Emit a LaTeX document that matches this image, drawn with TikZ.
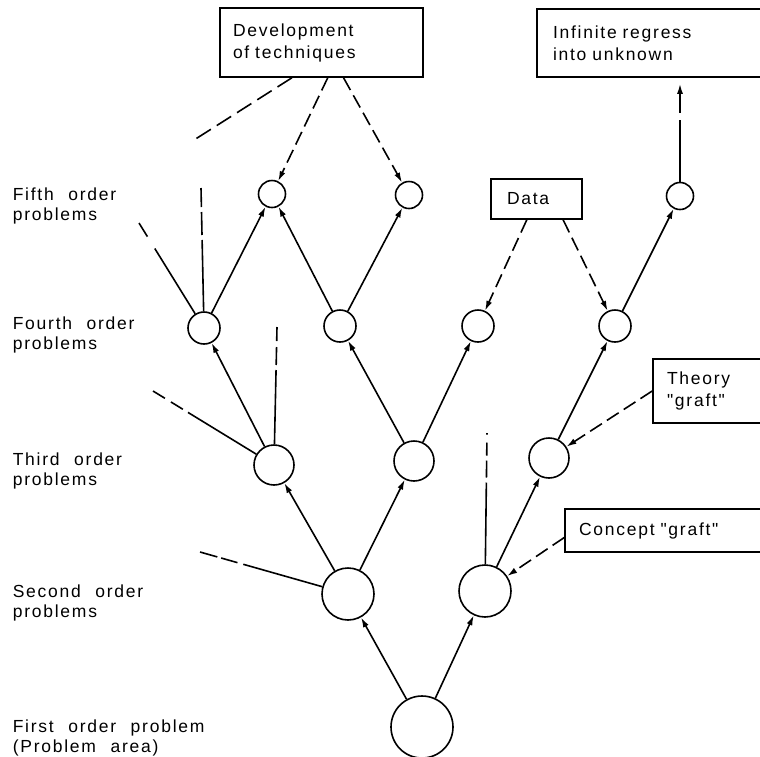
\documentclass[tikz,border=0pt]{standalone}
\usepackage{fontspec}
\newfontfamily\labfont[LetterSpace=10,WordSpace=2.2]{Liberation Sans}
\usetikzlibrary{arrows.meta}
\begin{document}
\begin{tikzpicture}[x=1pt,y=-1pt,line width=1.6pt,
  circ/.style={circle,draw,inner sep=0pt,minimum size=#1},
  lbl/.style={anchor=west,align=left,inner sep=0pt,font=\labfont\fontsize{17.5}{20}\selectfont},
  box/.style={draw,rectangle,align=left,inner ysep=0pt,font=\labfont\fontsize{17.5}{22}\selectfont},
  arr/.style={-{Latex[length=10pt,width=6pt]}},
  dsh/.style={dash pattern=on 14pt off 6pt}]
\useasboundingbox (0,0) rectangle (760,756);
\clip (0,0) rectangle (760,756);
% circles
\node[circ=62] (p1) at (422,727) {};
\node[circ=52] (p2a) at (348,594) {};
\node[circ=52] (p2b) at (485,591) {};
\node[circ=40] (p3a) at (274,465) {};
\node[circ=40] (p3b) at (414,461) {};
\node[circ=40] (p3c) at (549,458) {};
\node[circ=32] (p4a) at (204,328) {};
\node[circ=32] (p4b) at (340,326) {};
\node[circ=32] (p4c) at (478,326) {};
\node[circ=32] (p4d) at (615,326) {};
\node[circ=27] (p5a) at (272,194) {};
\node[circ=27] (p5b) at (409,195) {};
\node[circ=27] (p5c) at (680,196) {};
% boxes
\node[box,text width=177pt,inner xsep=13pt,minimum height=69pt] (dev) at (321.5,42.5) {Development\\of techniques};
\node[box,text width=196pt,inner xsep=16pt,minimum height=68pt] (inf) at (651,43) {Infinite regress\\into unknown};
\node[box,text width=59pt,inner xsep=16pt,minimum height=40pt] (data) at (536.5,199) {Data};
\node[box,text width=84pt,inner xsep=14pt,minimum height=64pt] (theory) at (709,391) {Theory\\"graft"};
\node[box,text width=172pt,inner xsep=14pt,minimum height=43pt] (concept) at (665,530.5) {Concept "graft"};
% labels
\node[lbl] (l5) at (12,205.75) {Fifth order\\problems};
\node[lbl] (l4) at (12,335) {Fourth order\\problems};
\node[lbl] (l3) at (12,470.75) {Third order\\problems};
\node[lbl] (l2) at (12,603) {Second order\\problems};
\node[lbl] (l1) at (12,737.5) {First order problem\\(Problem area)};
% solid arrows
\draw[arr] (p1) -- (p2a);
\draw[arr] (p1) -- (p2b);
\draw[arr] (p2a) -- (p3a);
\draw[arr] (p2a) -- (p3b);
\draw[arr] (p2b) -- (p3c);
\draw[arr] (p3a) -- (p4a);
\draw[arr] (p3b) -- (p4b);
\draw[arr] (p3b) -- (p4c);
\draw[arr] (p3c) -- (p4d);
\draw[arr] (p4a) -- (p5a);
\draw[arr] (p4b) -- (p5a);
\draw[arr] (p4b) -- (p5b);
\draw[arr] (p4d) -- (p5c);
% free lines (solid, dashed at far end)
\coordinate (e4l) at (139,223);
\coordinate (e4v) at (201,188);
\coordinate (e3l) at (153,391);
\coordinate (e3v) at (277,327);
\coordinate (e2l) at (200,552);
\coordinate (e2v) at (487,433);
\coordinate (edev) at (194,140);
\draw[dash pattern=on 16pt off 14pt on 400pt] (e4l) -- (p4a);
\draw[dash pattern=on 19pt off 5pt on 23pt off 5pt on 400pt] (e4v) -- (p4a);
\draw[dash pattern=on 14pt off 7pt on 14pt off 6pt on 400pt] (e3l) -- (p3a);
\draw[dash pattern=on 14pt off 6pt on 18pt off 5pt on 400pt] (e3v) -- (p3a);
\draw[dash pattern=on 18pt off 4pt on 17pt off 6pt on 400pt] (e2l) -- (p2a);
\draw[dash pattern=on 1.5pt off 8pt on 13pt off 5pt on 17pt off 5pt on 400pt] (e2v) -- (p2b);
% dashed arrows from boxes
\draw[dash pattern=on 17pt off 7pt] (dev.230) -- (edev);
\draw[dsh,arr] (dev.280) -- (p5a);
\draw[dsh,arr] (dev.302) -- (p5b);
\draw[dsh,arr] (data.245) -- (p4c);
\draw[dsh,arr] (data.322) -- (p4d);
\draw[dsh,arr] (theory.west) -- (p3c);
\draw[dsh,arr] (concept.184) -- (p2b);
\draw[arr,dash pattern=on 62pt off 7pt on 200pt,shorten >=6pt] (p5c) -- (p5c |- inf.south);
\end{tikzpicture}
\end{document}
